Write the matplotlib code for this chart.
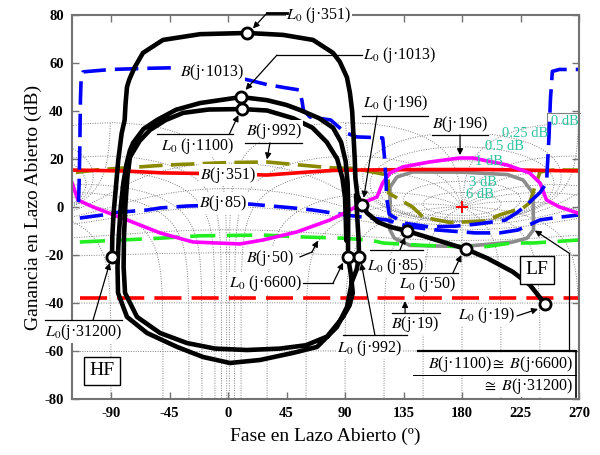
import numpy as np
import matplotlib.pyplot as plt

plt.rcParams['font.family'] = ['Liberation Serif', 'DejaVu Serif']
plt.rcParams['mathtext.fontset'] = 'stix'
plt.rcParams['axes.unicode_minus'] = False

# ---- open loop L0(jw): phase (deg), gain (dB) ----
l0_a_ph = [243.8, 232.3, 219, 200, 183, 160, 137.7, 124.6, 115.4, 107, 103, 99.5, 98, 97.5, 96.5, 95.5,
           93.8, 91.5, 86, 80.8, 65.4, 42.3, 14.6, -21.5, -50, -65.4, -72, -76, -77.7, -78.8, -79.5,
           -81.8, -84.4, -86.2, -88, -89, -89.2]
l0_a_db = [-40.4, -32.5, -27, -21.5, -17.5, -13.7, -10, -8.3, -6.3, -2.5, 0.8, 5, 12, 20, 30, 40,
           47.5, 54, 60.5, 64.2, 69.6, 71.7, 72.5, 72, 69.6, 64.2, 58, 53, 50, 43, 36.25,
           30.7, 19.6, 8.5, -2.6, -12.4, -20.8]
l0_b_ph = [98.5, 99.5, 100.5, 100.8, 99, 95.4, 91.5, 83.8, 68.5, 50, 24.6, 1.5, -19.2, -39.2, -62.3,
           -77.7, -84.6, -85, -84, -82.5, -80.5, -78, -75.5, -73, -65, -54.6, -40, -21.5, 10, 30, 45,
           55.4, 70, 80.8, 87, 90.5, 92, 92.5, 92.3, 94.5, 96, 93.5, 88.5, 76.2, 60, 40, 14.6, -10,
           -31.5, -52.3, -70, -79.2, -80.3, -80, -78.8, -77.3, -75.4, -68, -60, -48, -34.6, -15, 10.8,
           30, 50, 65, 76, 84, 88, 90, 90.6, 91]
l0_b_db = [5, -5, -14, -20.8, -26, -31, -41.7, -50, -58.3, -60.8, -63.75, -65, -62.5, -58.3, -52.5,
           -45.8, -35.8, -25, -12, 0, 10, 18, 23.5, 26.7, 32.5, 36.25, 40.5, 43.3, 45.8, 44.5, 42.5,
           40.4, 37, 33, 27, 19, 10, 0, -20.8, -28, -35.8, -41, -45.8, -54, -57.6, -59, -59.6, -59,
           -56.7, -52.5, -45.8, -35.8, -25, -12, 2, 13, 20.8, 27.5, 32.1, 36.2, 39.2, 40.6, 40.8,
           40.2, 37, 33, 27, 20, 12, 4, -5, -14]
# marked frequencies: 19, 50, 85, 196, 351, 1013, 1100, 992, 6600, 31200
mark_ph = [243.8, 183, 137.7, 103, 14.6, 10, 10.8, 100.8, 92.3, -89.2]
mark_db = [-40.4, -17.5, -10, 0.8, 72.5, 45.8, 40.8, -20.8, -20.8, -20.8]

# ---- bounds B(jw) ----
b1013_ph = [-115, -114.5, -114, -113.5, -113, -111.5, -90, -60, -42, -12, 15, 30, 45, 55, 57, 58, 63,
            79, 90, 99, 109, 119, 120.5, 121.5, 122, 124, 135, 155, 175, 190, 200, 213, 222, 230,
            240, 245, 246, 247, 248, 249.5, 255, 270]
b1013_db = [2, 10, 25, 45, 53, 56.3, 57.3, 57.8, 58, 56, 53, 51, 49.6, 48.75, 44, 40.4, 37.5,
            36.25, 31, 29.2, 29, 28.75, 20, 12, 4, -3, -6.7, -8.3, -8, -7.2, -6.5, -5.5, -2.5, 1,
            6, 10, 20, 30, 44.6, 56.5, 57.3, 57.3]
b85_ph = [-114, -96, -91, -62, -52, -31.5, 17, 50, 65, 90, 122, 140, 161, 190, 209, 223, 240, 250, 270]
b85_db = [-4.6, -3.3, -2.5, -1.25, -0.4, 0.4, 1.2, -0.4, -1.25, -3.3, -5.4, -8.3, -9.6, -10.8, -10.8,
          -9.6, -5.4, -4.6, -3.3]
b992_ph = [-117, -100, -47, 0, 30, 55, 80, 99, 107, 123, 123.5, 142, 150, 171, 199, 209, 227, 232,
           236, 240, 250, 270]
b992_db = [14.4, 15.5, 17.5, 18.5, 18.75, 17.5, 16.3, 16, 15, 13.3, 5.8, 0, -4.2, -6.5, -5.8, -3.3,
           -0.4, 1.7, 8.3, 14.6, 15.4, 15.4]
b351_ph = [-120, -80, -50, 0, 30, 60, 80, 100, 150, 200, 270]
b351_db = [15.4, 15, 14.2, 13.8, 13.3, 14.5, 15.2, 15.4, 15.6, 15.6, 15]
b196_ph = [-120, -115.4, -103.8, -77.7, -52.3, -26.9, 9.2, 26.9, 53, 78.5, 91.5, 103.8, 114.6, 119,
           124.6, 134.6, 155, 178, 188.5, 214.6, 232, 240, 245, 255, 270]
b196_db = [10, 2.9, 0, -5.4, -10.8, -14.6, -15.4, -13.75, -10.4, -5.4, -2, 1.7, 4.2, 10, 14.2, 16.7,
           18.75, 20.4, 20.4, 17.5, 14.2, 10, 2.9, 0, -2.7]
b50_ph = [-114, -52, -21.5, 27, 58, 88, 110, 119, 150, 180, 199, 218, 235, 270]
b50_db = [-14.6, -13, -12, -11.7, -12.5, -13, -13.8, -15, -16, -16.5, -16.5, -15, -15, -13.75]
b19_ph = [-114, 270]
b19_db = [-38, -38]
bhf_ph = [124.6, 124.6, 130, 142, 180, 215, 227, 234.6, 235, 230, 219, 180, 140, 128, 124.6, 124.6]
bhf_db = [2, 8.3, 12.5, 14.6, 14.5, 13.5, 11.25, 5.8, -9.6, -13, -14.6, -16.5, -16, -13, -9.6, 2]

crit_ph, crit_db = 180, 0
m_db = [6, 3, 1, 0.5, 0.25, 0, -1, -3, -6, -12, -20, -40, -60]
n_deg = [-1, -5, -10, -20, -30, -50, -90, -120, -150, -180, -210, -240, -270, -300, -330, -350,
         -355, -359]

fig = plt.figure(figsize=(6, 4.55), dpi=100)
ax = fig.add_axes([0.12, 0.1231, 0.845, 0.844])
ax.set_xlim(-120, 270)
ax.set_ylim(-80, 80)

# Nichols grid
gcol = '0.5'


def cut(g):
    g = np.array(g, float)
    g[g > 36] = np.nan
    return g


th = np.linspace(1e-3, 2 * np.pi - 1e-3, 1500)
for m in m_db:
    T = 10 ** (m / 20) * np.exp(1j * th)
    L = T / (1 - T)
    g = cut(20 * np.log10(np.abs(L)))
    p = np.degrees(np.unwrap(np.angle(L))) + 360
    for k in (-720, -360, 0, 360):
        ax.plot(p + k, g, ls=(0, (1, 1.5)), color=gcol, lw=0.7, zorder=1)

r = np.logspace(-5, 4, 3000)
for n in n_deg:
    T = r * np.exp(1j * np.radians(n))
    L = T / (1 - T)
    g = cut(20 * np.log10(np.abs(L)))
    p = np.degrees(np.unwrap(np.angle(L)))
    p = p + 360 * np.round((n - p[0]) / 360) + 360
    for k in (-720, -360, 0, 360):
        ax.plot(p + k, g, ls=(0, (1, 1.5)), color=gcol, lw=0.7, zorder=1)

teal = '#2cc4a0'
for txt, x, y in [('0.25 dB', 228.5, 30.8), ('0.5 dB', 213, 25), ('1 dB', 200.8, 18.75),
                  ('3 dB', 196, 10.4), ('6 dB', 194, 5), ('0 dB', 259, 35.8)]:
    ax.text(x, y, txt, color=teal, fontsize=10.5, ha='center', va='center', zorder=2.8)
ax.plot([245.4, 271], [39.2, 39.2], color='0.5', lw=0.8, clip_on=False, zorder=2)
ax.plot([245.4, 245.4], [39.2, 28], color='0.5', lw=0.8, zorder=2)

# bounds
lw = 2.6
ax.plot(bhf_ph, bhf_db, color='#8c8c8c', lw=lw, zorder=2)
ax.plot(b19_ph, b19_db, color='red', lw=lw, dashes=(7.5, 2.8), zorder=2)
ax.plot(b50_ph, b50_db, color='#22ee22', lw=lw, dashes=(7, 3.2), zorder=2)
ax.plot(b85_ph, b85_db, color='blue', lw=lw, dashes=(6.5, 2.5), zorder=2)
ax.plot(b992_ph, b992_db, color='#8a8a00', lw=lw, dashes=(6.5, 2.3), zorder=2)
ax.plot(b351_ph, b351_db, color='red', lw=lw, zorder=2)
ax.plot(b196_ph, b196_db, color='magenta', lw=lw, zorder=2)
ax.plot(b1013_ph, b1013_db, color='blue', lw=lw, dashes=(6.5, 2.5), zorder=2)
ax.plot(crit_ph, crit_db, '+', color='red', ms=9, mew=1.4, zorder=2)

# open loop
ax.plot(l0_a_ph, l0_a_db, color='black', lw=3.3, zorder=3, solid_capstyle='round')
ax.plot(l0_b_ph, l0_b_db, color='black', lw=3.3, zorder=3, solid_capstyle='round')
ax.plot(mark_ph, mark_db, 'o', ms=8, mfc='white', mec='black', mew=2, zorder=4)

# annotations
wb = dict(boxstyle='square,pad=0.05', fc='white', ec='none')
fs = 11.5


def label(x, y, s, **kw):
    ax.text(x, y, s, fontsize=fs, ha='center', va='center', bbox=wb, zorder=6, clip_on=False, **kw)


def seg(xs, ys, lwid=0.9):
    ax.plot(xs, ys, color='black', lw=lwid, zorder=7, clip_on=False)


def arrow(x0, y0, x1, y1):
    ax.annotate('', xy=(x1, y1), xytext=(x0, y0), zorder=7, annotation_clip=False,
                arrowprops=dict(arrowstyle='-|>', color='black', lw=0.9, mutation_scale=9,
                                shrinkA=0, shrinkB=0))


label(70, 80, r'$L_0$ (j·351)')
seg([45.4, 30], [80.8, 80.8], 2)
arrow(30, 80.8, 19.2, 74.4)

label(132.3, 63.3, r'$L_0$ (j·1013)')
seg([103, 37.7], [63.3, 63.3])
arrow(37.7, 63.3, 13.5, 48.8)

label(-12.3, 56.25, r'$B$(j·1013)')

label(-23.8, 25.3, r'$L_0$ (j·1100)')
seg([-54.6, 3.8], [30.3, 30.3])
arrow(1, 30.3, 8, 38.3)

label(35.4, 31.6, r'$B$(j·992)')
seg([13, 57], [26.7, 26.7])
arrow(32.3, 26.7, 30, 19.8)

label(0, 13.3, r'$B$(j·351)')
label(-3.8, 1.7, r'$B$(j·85)')

label(128.5, 43.3, r'$L_0$ (j·196)')
seg([103, 153.8], [37.9, 37.9])
arrow(114.6, 37.9, 104.4, 3.8)

label(178.5, 34.6, r'$B$(j·196)')
seg([157, 200], [30, 30])
arrow(178.5, 30, 178.5, 21.6)

label(32.3, -21.25, r'$B$(j·50)')
seg([55.4, 64.6], [-20.8, -18.75])
arrow(64.6, -18.75, 69.2, -14)

label(29.2, -31.7, r'$L_0$ (j·6600)')
seg([57.7, 80.8], [-31.7, -31.7])
arrow(80.8, -31.7, 88.5, -23.2)

label(109.2, -58.8, r'$L_0$ (j·992)')
seg([88.5, 137.7], [-53.3, -53.3])
arrow(113, -53.3, 102.5, -23.4)

label(129.2, -24.6, r'$L_0$ (j·85)')
seg([109, 150], [-17.9, -17.9])
arrow(132.3, -17.9, 136.2, -12.6)

label(153.8, -32.2, r'$L_0$ (j·50)')
seg([132.3, 176.9], [-27.5, -27.5])
arrow(173, -27.5, 179.5, -20)

label(143.8, -48.8, r'$B$(j·19)')
seg([126, 163], [-44.2, -44.2])
arrow(136.2, -44.2, 136.2, -39.2)

label(198.5, -45, r'$L_0$ (j·19)')
arrow(222.3, -45.4, 238.5, -42.5)

label(-111.5, -52.2, r'$L_0$(j·31200)')
seg([-140.8, -81.5], [-47.1, -47.1])
arrow(-103.8, -47.1, -91, -23.3)

bx = dict(boxstyle='square,pad=0.3', fc='white', ec='black', lw=1.0)
ax.text(-96.9, -68.3, 'HF', fontsize=14, ha='center', va='center', bbox=bx, zorder=6)
ax.text(237.7, -26.25, 'LF', fontsize=14, ha='center', va='center', bbox=bx, zorder=6)

ax.text(265.5, -65.4, r'$B$(j·1100)$\cong$ $B$(j·6600)', fontsize=fs, ha='right', va='center',
        bbox=wb, zorder=6)
ax.text(265.5, -74.6, r'$\cong$ $B$(j·31200)', fontsize=fs, ha='right', va='center', bbox=wb, zorder=6)
seg([146, 268], [-60, -60], 1.6)
seg([142.3, 268], [-70, -70], 0.7)
seg([268, 268], [-60, -79.3], 1.2)
seg([262.3, 262.3], [-60, -19.2])
arrow(262.3, -19.2, 236, -9.8)

# axes styling
ax.set_xticks(np.arange(-90, 271, 45))
ax.set_yticks(np.arange(-80, 81, 20))
ax.tick_params(direction='in', length=5, width=1, color='0.45', top=True, right=True,
               labelsize=10.5, pad=6)
for lbl in ax.get_xticklabels() + ax.get_yticklabels():
    lbl.set_fontweight('bold')
for sp in ax.spines.values():
    sp.set_color('0.45')
    sp.set_linewidth(1.5)
ax.set_xlabel('Fase en Lazo Abierto (º)', fontsize=14, labelpad=5)
ax.set_ylabel('Ganancia en Lazo Abierto (dB)', fontsize=14, labelpad=2)

fig.savefig('out.png', dpi=100)
